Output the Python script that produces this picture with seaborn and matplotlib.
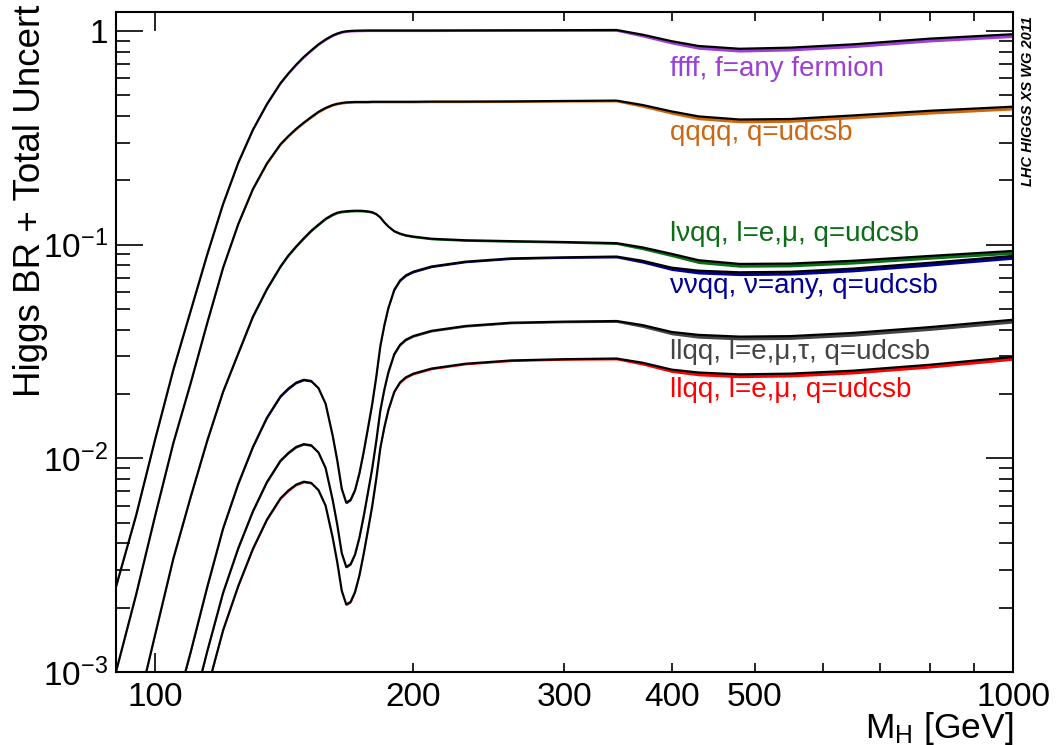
import numpy as np
import pandas as pd
import matplotlib
matplotlib.use('Agg')
import matplotlib.pyplot as plt
import matplotlib.ticker as mticker
import seaborn as sns

# Higgs mass points [GeV]
mass = [90, 95, 100, 105, 110, 115, 120, 125, 130, 135,
        140, 143, 146, 149, 152, 155, 158, 161, 163, 165, 167, 169, 171, 173, 175,
        177, 179, 181, 183, 185, 187, 190, 193, 196, 200,
        210, 230, 260, 300, 345,
        370, 400, 430, 480, 550, 650, 800, 1000]

br_ffff = [0.0025, 0.0054, 0.0123, 0.026, 0.049, 0.09, 0.155, 0.242, 0.345, 0.455,
           0.57, 0.633, 0.695, 0.755, 0.81, 0.865, 0.912, 0.952, 0.972, 0.987, 0.996,
           1.0, 1.002, 1.003, 1.004, 1.005, 1.005, 1.005, 1.005, 1.005, 1.005, 1.005,
           1.005, 1.005, 1.005,
           1.005, 1.006, 1.007, 1.008, 1.01,
           0.96, 0.895, 0.85, 0.825, 0.835, 0.865, 0.92, 0.965]
br_qqqq = [0.001, 0.0023, 0.0054, 0.0118, 0.0225, 0.043, 0.078, 0.125, 0.182, 0.24,
           0.295, 0.322, 0.348, 0.372, 0.395, 0.418, 0.436, 0.45, 0.456, 0.46, 0.463,
           0.464, 0.465, 0.465, 0.465, 0.465, 0.466, 0.466, 0.466, 0.466, 0.466, 0.466,
           0.466, 0.466, 0.466,
           0.467, 0.467, 0.468, 0.47, 0.472,
           0.45, 0.42, 0.398, 0.385, 0.387, 0.402, 0.423, 0.442]
br_lvqq = [0.00028, 0.00063, 0.0015, 0.0034, 0.0066, 0.0121, 0.0205, 0.031, 0.046, 0.062,
           0.079, 0.089, 0.098, 0.107, 0.116, 0.124, 0.132, 0.138, 0.141, 0.1425, 0.1432,
           0.1437, 0.144, 0.144, 0.1437, 0.143, 0.1418, 0.139, 0.134, 0.127, 0.1215,
           0.1155, 0.1125, 0.1105, 0.109,
           0.1065, 0.1048, 0.1038, 0.1028, 0.1016,
           0.097, 0.0905, 0.0845, 0.0812, 0.0815, 0.084, 0.0885, 0.0934]
br_vvqq = [0.00004, 0.0001, 0.00031, 0.00062, 0.00124, 0.0025, 0.0047, 0.0076, 0.0113, 0.0155,
           0.0195, 0.0212, 0.0226, 0.0233, 0.0230, 0.0213, 0.0180, 0.0128, 0.0098, 0.0072,
           0.0062, 0.0064, 0.0071, 0.0085, 0.0107, 0.0138, 0.0178, 0.0240, 0.0335, 0.0420,
           0.0505, 0.0615, 0.0680, 0.0718, 0.0747,
           0.079, 0.0832, 0.0862, 0.0872, 0.0879,
           0.084, 0.078, 0.0755, 0.0742, 0.0746, 0.0772, 0.0822, 0.0885]
br_llqq3 = [0.00002, 0.00005, 0.000155, 0.00031, 0.00062, 0.00125, 0.00235, 0.0038, 0.00565, 0.00775,
            0.00975, 0.0106, 0.0113, 0.01165, 0.0115, 0.01065, 0.009, 0.0064, 0.0049, 0.0036,
            0.0031, 0.0032, 0.00355, 0.00425, 0.00535, 0.0069, 0.0089, 0.012, 0.01675, 0.021,
            0.02525, 0.03075, 0.034, 0.0359, 0.03735,
            0.0395, 0.0416, 0.0431, 0.0436, 0.0439,
            0.042, 0.039, 0.0378, 0.0371, 0.0373, 0.0386, 0.0411, 0.0445]
br_llqq2 = [0.0000133, 0.000033, 0.000103, 0.00021, 0.00041, 0.00083, 0.00157, 0.00253, 0.00377, 0.00517,
            0.0065, 0.00707, 0.00753, 0.00777, 0.00767, 0.0071, 0.006, 0.00427, 0.00327, 0.0024,
            0.00207, 0.00213, 0.00237, 0.00283, 0.00357, 0.0046, 0.00593, 0.008, 0.01117, 0.014,
            0.01683, 0.0205, 0.02267, 0.02393, 0.0249,
            0.0263, 0.0277, 0.0287, 0.0291, 0.0293,
            0.028, 0.026, 0.0252, 0.0247, 0.0249, 0.0257, 0.0274, 0.0298]
# relative total uncertainty (band width)
unc = [0.012, 0.012, 0.012, 0.012, 0.012, 0.012, 0.012, 0.012, 0.012, 0.012,
       0.012, 0.012, 0.012, 0.012, 0.012, 0.012, 0.012, 0.012, 0.012, 0.012,
       0.012, 0.012, 0.012, 0.012, 0.012, 0.012, 0.012, 0.012, 0.012, 0.012,
       0.012, 0.012, 0.012, 0.012, 0.012,
       0.012, 0.012, 0.012, 0.012, 0.015,
       0.025, 0.03, 0.035, 0.035, 0.035, 0.035, 0.035, 0.035]

labels = ['ffff, f=any fermion', 'qqqq, q=udcsb', 'lνqq, l=e,μ, q=udcsb',
          'ννqq, ν=any, q=udcsb', 'llqq, l=e,μ,τ, q=udcsb', 'llqq, l=e,μ, q=udcsb']
label_y = [0.664, 0.333, 0.112, 0.064, 0.0315, 0.0209]
colors = ['#9b3fd6', '#cc6611', '#0a6e14', '#000099', '#444444', '#ff0000']


def main():
    sns.set_theme(style='ticks')
    plt.rcParams['font.family'] = ['Liberation Sans', 'DejaVu Sans']
    plt.rcParams['mathtext.fontset'] = 'custom'
    plt.rcParams['mathtext.rm'] = 'Liberation Sans'
    plt.rcParams['mathtext.it'] = 'Liberation Sans:italic'
    for k in ['text.color', 'axes.labelcolor', 'xtick.color', 'ytick.color']:
        plt.rcParams[k] = 'black'

    fig = plt.figure(figsize=(10.57, 7.45), dpi=100)
    ax = fig.add_axes([0.1097, 0.098, 0.8487, 0.886])
    ax.set_xscale('log')
    ax.set_yscale('log')

    series = [br_ffff, br_qqqq, br_lvqq, br_vvqq, br_llqq3, br_llqq2]
    for vals, col in zip(series, colors):
        lo = [v * (1 - u) for v, u in zip(vals, unc)]
        ax.fill_between(mass, lo, vals, color=col, lw=0)
        df = pd.DataFrame({'mass': mass, 'br': vals})
        sns.lineplot(data=df, x='mass', y='br', color='black', lw=1.6,
                     estimator=None, sort=False, ax=ax)

    for lab, y, col in zip(labels, label_y, colors):
        ax.text(398, y, lab, color=col, fontsize=20, ha='left', va='center')

    ax.set_xlim(90, 1000)
    ax.set_ylim(1e-3, 1.227)

    ax.xaxis.set_major_locator(mticker.FixedLocator([100, 1000]))
    ax.xaxis.set_major_formatter(mticker.FixedFormatter(['100', '1000']))
    ax.xaxis.set_minor_locator(mticker.FixedLocator([200, 300, 400, 500, 600, 700, 800, 900]))
    ax.xaxis.set_minor_formatter(mticker.FixedFormatter(['200', '300', '400', '500', '', '', '', '']))
    ax.yaxis.set_major_locator(mticker.FixedLocator([1e-3, 1e-2, 1e-1, 1]))
    ax.yaxis.set_major_formatter(mticker.FixedFormatter(
        ['$10^{-3}$', '$10^{-2}$', '$10^{-1}$', '1']))
    ax.yaxis.set_minor_locator(mticker.LogLocator(base=10, subs=np.arange(2, 10)))
    ax.yaxis.set_minor_formatter(mticker.NullFormatter())

    ax.tick_params(which='both', direction='in', top=True, right=True,
                   labelsize=24, color='black', labelcolor='black', width=1.2)
    ax.tick_params(axis='x', which='major', length=13.7, pad=7)
    ax.tick_params(axis='x', which='minor', length=6.5, pad=7)
    ax.tick_params(axis='y', which='major', length=19.5, pad=6)
    ax.tick_params(axis='y', which='minor', length=10)
    for sp in ax.spines.values():
        sp.set_linewidth(1.5)
        sp.set_color('black')

    ax.set_xlabel('M$_{\\mathrm{H}}$ [GeV]', fontsize=25.5, loc='right')
    ax.xaxis.set_label_coords(1.0, -0.057)
    ax.set_ylabel('Higgs BR + Total Uncert', fontsize=26.5, loc='top')
    ax.yaxis.set_label_coords(-0.076, 1.011)

    fig.text(1028 / 1057, 1 - 101 / 745, 'LHC HIGGS XS WG 2011', rotation=90,
             fontsize=10.5, fontweight='bold', fontstyle='italic',
             ha='center', va='center')

    plt.savefig('out.png', dpi=100)


if __name__ == "__main__":
    main()
